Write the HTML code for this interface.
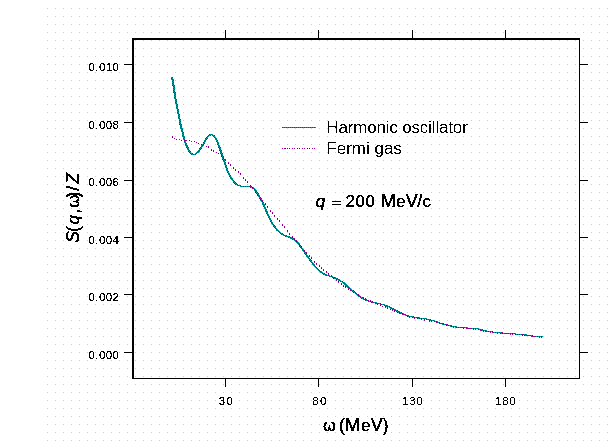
<!DOCTYPE html>
<html><head><meta charset="utf-8"><title>plot</title>
<style>
html,body{margin:0;padding:0;background:#fff;}
body{width:612px;height:448px;overflow:hidden;position:relative;font-family:"Liberation Sans",sans-serif;}
svg{position:absolute;left:0;top:0;display:block;}
text{font-family:"Liberation Sans",sans-serif;fill:#000;}
.t{font-size:11.5px;}
.b{font-size:17px;}
.i{font-style:italic;}
.bd{font-size:18px;stroke:#000;stroke-width:0.33px;}
.w{font-size:16.5px;stroke:#000;stroke-width:0.35px;}
</style></head><body>
<svg width="612" height="448" viewBox="0 0 612 448">
<defs>
<pattern id="dots" x="47" y="8" width="8" height="8" patternUnits="userSpaceOnUse"><rect x="0" y="0" width="1" height="1" fill="#cccccc"/></pattern>
<filter id="th5" x="-10%" y="-30%" width="120%" height="160%" color-interpolation-filters="sRGB"><feComponentTransfer><feFuncA type="discrete" tableValues="0 1"/></feComponentTransfer></filter>
<filter id="th4" x="-10%" y="-30%" width="120%" height="160%" color-interpolation-filters="sRGB"><feComponentTransfer><feFuncA type="discrete" tableValues="0 0 1 1 1"/></feComponentTransfer></filter>
<pattern id="pt" x="0" y="0" width="2" height="2" patternUnits="userSpaceOnUse"><rect width="2" height="2" fill="#009c9c"/><rect x="1" y="0" width="1" height="1" fill="#005c5c"/><rect x="0" y="1" width="1" height="1" fill="#005c5c"/></pattern>
<pattern id="pm" x="0" y="0" width="2" height="2" patternUnits="userSpaceOnUse"><rect width="2" height="2" fill="#a400a4"/><rect x="1" y="0" width="1" height="1" fill="#640064"/><rect x="0" y="1" width="1" height="1" fill="#640064"/></pattern>
</defs>
<rect x="0" y="0" width="612" height="448" fill="#fff"/>
<rect x="47" y="8" width="561" height="433" fill="url(#dots)"/>
<g shape-rendering="crispEdges" fill="#000">
<rect x="132" y="38" width="2" height="341"/>
<rect x="132" y="38" width="448" height="2"/>
<rect x="579" y="38" width="1" height="341"/>
<rect x="132" y="378" width="448" height="1"/>
<rect x="225" y="30" width="1" height="8"/><rect x="225" y="379" width="1" height="8"/>
<rect x="318" y="30" width="1" height="8"/><rect x="318" y="379" width="1" height="8"/>
<rect x="412" y="30" width="1" height="8"/><rect x="412" y="379" width="1" height="8"/>
<rect x="505" y="30" width="1" height="8"/><rect x="505" y="379" width="1" height="8"/>
<rect x="124" y="64" width="8" height="1"/><rect x="580" y="64" width="8" height="1"/>
<rect x="124" y="122" width="8" height="1"/><rect x="580" y="122" width="8" height="1"/>
<rect x="124" y="180" width="8" height="1"/><rect x="580" y="180" width="8" height="1"/>
<rect x="124" y="237" width="8" height="1"/><rect x="580" y="237" width="8" height="1"/>
<rect x="124" y="294" width="8" height="1"/><rect x="580" y="294" width="8" height="1"/>
<rect x="124" y="352" width="8" height="1"/><rect x="580" y="352" width="8" height="1"/>
</g>
<g filter="url(#th4)">
<text class="t" x="218.75" y="405" textLength="14.2" lengthAdjust="spacing">30</text>
<text class="t" x="312.25" y="405" textLength="14.2" lengthAdjust="spacing">80</text>
<text class="t" x="402.35" y="405" textLength="20.2" lengthAdjust="spacing">130</text>
<text class="t" x="495.35" y="405" textLength="20.2" lengthAdjust="spacing">180</text>
<text class="t" x="88.6" y="71" textLength="30.3" lengthAdjust="spacing">0.010</text>
<text class="t" x="88.6" y="129" textLength="30.3" lengthAdjust="spacing">0.008</text>
<text class="t" x="88.6" y="186" textLength="30.3" lengthAdjust="spacing">0.006</text>
<text class="t" x="88.6" y="244" textLength="30.3" lengthAdjust="spacing">0.004</text>
<text class="t" x="88.6" y="301" textLength="30.3" lengthAdjust="spacing">0.002</text>
<text class="t" x="88.6" y="359" textLength="30.3" lengthAdjust="spacing">0.000</text>
</g>
<g fill="none" stroke="url(#pt)" stroke-width="1.05" stroke-linejoin="round" shape-rendering="crispEdges"><polyline points="171.6,77.0 172.6,83.0 173.6,88.7 174.5,96.5 176.1,104.4 177.8,113.2 179.1,119.6 180.3,126.0 182.1,132.5 183.5,138.5 185.5,144.3 188.1,150.1 190.1,152.9 191.7,154.2 193.2,154.7 194.5,154.4 196.4,152.9 198.6,150.7 200.4,148.1 202.1,145.4 204.3,141.5 206.4,137.7 208.4,135.4 210.4,134.6 212.8,135.3 215.1,138.0 217.2,142.7 219.2,148.1 221.2,154.0 223.1,159.7 225.1,165.3 226.6,169.7 227.9,172.8 230.8,178.2 234.3,182.8 237.2,185.3 239.7,186.0 244.1,186.2 249.0,186.5 252.0,187.6 254.4,189.5 256.4,192.4 258.3,195.9 260.3,199.1 262.4,203.0 265.3,209.8 268.3,216.6 271.2,222.6 274.2,226.9 277.1,230.4 281.0,233.8 284.5,235.7 287.9,236.8 290.9,238.2 293.3,239.5 295.5,241.2 297.4,242.8 300.3,246.7 303.7,251.6 307.2,256.6 310.6,261.5 314.1,265.9 317.5,269.6 320.9,272.5 324.9,274.8 329.7,276.3 336.4,278.6 343.1,282.8 349.8,288.9 356.5,294.4 362.9,299.1 369.6,301.5 376.3,303.2 383.0,304.7 388.0,306.5 393.1,309.4 399.8,312.7 406.5,315.6 413.2,317.2 419.9,318.2 426.6,319.1 433.3,320.8 440.0,323.3 446.7,325.1 454.5,326.9 464.6,327.9 471.3,328.2 478.0,329.0 484.7,330.9 493.1,332.2 499.8,332.9 508.1,333.6 516.5,334.1 524.9,334.9 533.3,336.4 542.1,336.9"/><polyline points="172.6,77.0 173.6,83.0 174.6,88.7 175.5,96.5 177.1,104.4 178.8,113.2 180.1,119.6 181.3,126.0 183.1,132.5 184.5,138.5 186.5,144.3 189.1,150.1 191.1,152.9 192.7,154.2 194.2,154.7 195.5,154.4 197.4,152.9 199.6,150.7 201.4,148.1 203.1,145.4 205.3,141.5 207.4,137.7 209.4,135.4 211.4,134.6 213.8,135.3 216.1,138.0 218.2,142.7 220.2,148.1 222.2,154.0 224.1,159.7 226.1,165.3 227.6,169.7 228.9,172.8 231.8,178.2 235.3,182.8 238.2,185.3 240.7,186.0 245.1,186.2 250.0,186.5 253.0,187.6 255.4,189.5 257.4,192.4 259.3,195.9 261.3,199.1 263.4,203.0 266.3,209.8 269.3,216.6 272.2,222.6 275.2,226.9 278.1,230.4 282.0,233.8 285.5,235.7 288.9,236.8 291.9,238.2 294.3,239.5 296.5,241.2 298.4,242.8 301.3,246.7 304.7,251.6 308.2,256.6 311.6,261.5 315.1,265.9 318.5,269.6 321.9,272.5 325.9,274.8 330.7,276.3 337.4,278.6 344.1,282.8 350.8,288.9 357.5,294.4 363.9,299.1 370.6,301.5 377.3,303.2 384.0,304.7 389.0,306.5 394.1,309.4 400.8,312.7 407.5,315.6 414.2,317.2 420.9,318.2 427.6,319.1 434.3,320.8 441.0,323.3 447.7,325.1 455.5,326.9 465.6,327.9 472.3,328.2 479.0,329.0 485.7,330.9 494.1,332.2 500.8,332.9 509.1,333.6 517.5,334.1 525.9,334.9 534.3,336.4 543.1,336.9"/></g>
<g fill="url(#pm)" shape-rendering="crispEdges"><rect x="172" y="136" width="1" height="2"/><rect x="174" y="138" width="1" height="1"/><rect x="176" y="139" width="1" height="1"/><rect x="179" y="139" width="1" height="1"/><rect x="181" y="140" width="1" height="1"/><rect x="184" y="140" width="1" height="1"/><rect x="186" y="140" width="1" height="1"/><rect x="189" y="140" width="1" height="1"/><rect x="191" y="141" width="1" height="1"/><rect x="194" y="141" width="1" height="1"/><rect x="196" y="142" width="1" height="1"/><rect x="198" y="143" width="1" height="1"/><rect x="201" y="144" width="1" height="1"/><rect x="203" y="144" width="1" height="1"/><rect x="206" y="146" width="1" height="1"/><rect x="208" y="146" width="1" height="2"/><rect x="211" y="149" width="1" height="2"/><rect x="213" y="150" width="1" height="2"/><rect x="216" y="152" width="1" height="1"/><rect x="218" y="153" width="1" height="1"/><rect x="221" y="155" width="1" height="2"/><rect x="223" y="157" width="1" height="2"/><rect x="225" y="159" width="1" height="2"/><rect x="228" y="162" width="1" height="2"/><rect x="230" y="164" width="1" height="2"/><rect x="233" y="167" width="1" height="2"/><rect x="235" y="169" width="1" height="2"/><rect x="238" y="171" width="1" height="2"/><rect x="240" y="173" width="1" height="2"/><rect x="243" y="177" width="1" height="2"/><rect x="245" y="179" width="1" height="2"/><rect x="247" y="181" width="1" height="2"/><rect x="250" y="185" width="1" height="2"/><rect x="252" y="187" width="1" height="2"/><rect x="255" y="191" width="1" height="2"/><rect x="257" y="194" width="1" height="2"/><rect x="260" y="198" width="1" height="2"/><rect x="262" y="200" width="1" height="2"/><rect x="265" y="203" width="1" height="2"/><rect x="267" y="206" width="1" height="2"/><rect x="270" y="210" width="1" height="2"/><rect x="272" y="212" width="1" height="2"/><rect x="274" y="215" width="1" height="2"/><rect x="277" y="218" width="1" height="2"/><rect x="279" y="220" width="1" height="2"/><rect x="282" y="224" width="1" height="2"/><rect x="284" y="226" width="1" height="2"/><rect x="287" y="230" width="1" height="2"/><rect x="289" y="233" width="1" height="2"/><rect x="292" y="236" width="1" height="2"/><rect x="294" y="238" width="1" height="2"/><rect x="296" y="240" width="1" height="2"/><rect x="299" y="244" width="1" height="2"/><rect x="301" y="246" width="1" height="2"/><rect x="304" y="250" width="1" height="2"/><rect x="306" y="252" width="1" height="2"/><rect x="309" y="255" width="1" height="2"/><rect x="311" y="257" width="1" height="2"/><rect x="314" y="261" width="1" height="2"/><rect x="316" y="263" width="1" height="2"/><rect x="319" y="265" width="1" height="2"/><rect x="321" y="267" width="1" height="2"/><rect x="323" y="269" width="1" height="2"/><rect x="326" y="271" width="1" height="2"/><rect x="328" y="273" width="1" height="2"/><rect x="331" y="275" width="1" height="2"/><rect x="333" y="277" width="1" height="2"/><rect x="336" y="279" width="1" height="2"/><rect x="338" y="281" width="1" height="2"/><rect x="341" y="283" width="1" height="2"/><rect x="343" y="285" width="1" height="2"/><rect x="345" y="286" width="1" height="2"/><rect x="348" y="288" width="1" height="2"/><rect x="350" y="290" width="1" height="1"/><rect x="353" y="292" width="1" height="1"/><rect x="355" y="293" width="1" height="1"/><rect x="358" y="294" width="1" height="2"/><rect x="360" y="296" width="1" height="1"/><rect x="363" y="297" width="1" height="2"/><rect x="365" y="298" width="1" height="2"/><rect x="368" y="300" width="1" height="1"/><rect x="370" y="300" width="1" height="2"/><rect x="372" y="301" width="1" height="2"/><rect x="375" y="303" width="1" height="1"/><rect x="377" y="303" width="1" height="2"/><rect x="380" y="304" width="1" height="2"/><rect x="382" y="306" width="1" height="1"/><rect x="385" y="306" width="1" height="2"/><rect x="387" y="307" width="1" height="2"/><rect x="390" y="309" width="1" height="1"/><rect x="392" y="309" width="1" height="2"/><rect x="394" y="310" width="1" height="2"/><rect x="397" y="312" width="1" height="1"/><rect x="399" y="312" width="1" height="2"/><rect x="402" y="313" width="1" height="2"/><rect x="404" y="314" width="1" height="1"/><rect x="407" y="315" width="1" height="2"/><rect x="409" y="316" width="1" height="2"/><rect x="412" y="317" width="1" height="1"/><rect x="414" y="317" width="1" height="2"/><rect x="417" y="317" width="1" height="2"/><rect x="419" y="318" width="1" height="1"/><rect x="421" y="318" width="1" height="2"/><rect x="424" y="319" width="1" height="2"/><rect x="426" y="319" width="1" height="1"/><rect x="429" y="320" width="1" height="2"/><rect x="431" y="320" width="1" height="2"/><rect x="434" y="321" width="1" height="1"/><rect x="436" y="321" width="1" height="2"/><rect x="439" y="322" width="1" height="2"/><rect x="441" y="323" width="1" height="1"/><rect x="443" y="323" width="1" height="2"/><rect x="446" y="324" width="1" height="2"/><rect x="448" y="325" width="1" height="1"/><rect x="451" y="325" width="1" height="2"/><rect x="453" y="326" width="1" height="2"/><rect x="456" y="327" width="1" height="1"/><rect x="458" y="327" width="1" height="1"/><rect x="461" y="327" width="1" height="1"/><rect x="463" y="327" width="1" height="2"/><rect x="466" y="328" width="1" height="1"/><rect x="468" y="328" width="1" height="1"/><rect x="470" y="328" width="1" height="1"/><rect x="473" y="328" width="1" height="2"/><rect x="475" y="329" width="1" height="1"/><rect x="478" y="329" width="1" height="1"/><rect x="480" y="330" width="1" height="1"/><rect x="483" y="330" width="1" height="2"/><rect x="485" y="331" width="1" height="1"/><rect x="488" y="331" width="1" height="1"/><rect x="490" y="332" width="1" height="1"/><rect x="492" y="331" width="1" height="2"/><rect x="495" y="332" width="1" height="1"/><rect x="497" y="333" width="1" height="1"/><rect x="500" y="333" width="1" height="1"/><rect x="502" y="332" width="1" height="2"/><rect x="505" y="333" width="1" height="1"/><rect x="507" y="333" width="1" height="1"/><rect x="510" y="334" width="1" height="1"/><rect x="512" y="333" width="1" height="2"/><rect x="515" y="334" width="1" height="1"/><rect x="517" y="334" width="1" height="1"/><rect x="519" y="334" width="1" height="1"/><rect x="522" y="334" width="1" height="2"/><rect x="524" y="335" width="1" height="1"/><rect x="527" y="335" width="1" height="1"/><rect x="529" y="335" width="1" height="1"/><rect x="532" y="335" width="1" height="2"/><rect x="534" y="336" width="1" height="1"/><rect x="537" y="336" width="1" height="1"/><rect x="539" y="337" width="1" height="1"/><rect x="541" y="336" width="1" height="2"/></g>
<rect x="282" y="127" width="34" height="1" fill="url(#pt)" shape-rendering="crispEdges"/>
<g fill="url(#pm)" shape-rendering="crispEdges"><rect x="282" y="148" width="1" height="1"/><rect x="284" y="148" width="1" height="1"/><rect x="285" y="148" width="1" height="1"/><rect x="287" y="148" width="1" height="1"/><rect x="289" y="148" width="1" height="1"/><rect x="292" y="148" width="1" height="1"/><rect x="294" y="148" width="1" height="1"/><rect x="297" y="148" width="1" height="1"/><rect x="299" y="148" width="1" height="1"/><rect x="302" y="148" width="1" height="1"/><rect x="304" y="148" width="1" height="1"/><rect x="307" y="148" width="1" height="1"/><rect x="309" y="148" width="1" height="1"/><rect x="312" y="148" width="1" height="1"/><rect x="314" y="148" width="1" height="1"/></g>
<g filter="url(#th5)">
<text class="b" x="326.3" y="133" textLength="141.5" lengthAdjust="spacing">Harmonic oscillator</text>
<text class="b" x="326.3" y="154">Fermi gas</text>
<text class="bd i" x="315.7" y="207.2" style="font-size:17px">q</text>
<text class="bd" x="345.4" y="207.2" style="font-size:17px" textLength="29.6" lengthAdjust="spacing">200</text>
<text class="bd" y="207.2"><tspan x="380.8">M</tspan><tspan x="396.1" style="font-size:17px">e</tspan><tspan x="405.7">V</tspan><tspan x="417.3">/</tspan><tspan x="422.6" style="font-size:17px">c</tspan></text>
<text class="w" x="322.9" y="431.2">ω</text>
<text class="bd" y="431.2"><tspan x="338.9">(</tspan><tspan x="345">M</tspan><tspan x="360.9" style="font-size:17px">e</tspan><tspan x="370.7">V</tspan><tspan x="382.6">)</tspan></text>
</g>
<rect x="332" y="201" width="9" height="1" fill="#000" shape-rendering="crispEdges"/><rect x="332" y="204" width="9" height="1" fill="#000" shape-rendering="crispEdges"/>
<g filter="url(#th5)"><g transform="translate(79.0,243) rotate(-90)"><text class="bd i" x="0" y="0">S</text><text class="bd" x="11.0" y="0">(</text><text class="bd i" x="18.5" y="0" style="font-size:17px">q</text><text class="bd" x="29.05" y="0">,</text><text class="w" x="35.16" y="0">ω</text><text class="bd" x="45.6" y="0">)</text><text class="bd" x="52.2" y="0">/</text><text class="bd i" x="59.0" y="0">Z</text></g></g>
</svg>
</body></html>
